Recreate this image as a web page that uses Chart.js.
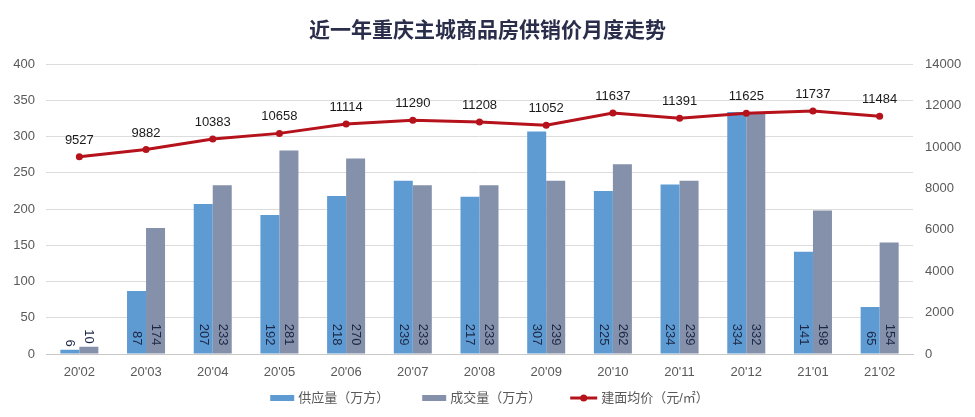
<!DOCTYPE html>
<html><head><meta charset="utf-8">
<script src="https://cdn.jsdelivr.net/npm/chart.js@4/dist/chart.umd.min.js"></script>
<style>html,body{margin:0;padding:0;background:#fff;}#wrap{width:975px;height:417px;}</style>
</head><body><div id="wrap"><canvas id="c" width="975" height="417"></canvas></div>
<script>
const categories = ["20'02","20'03","20'04","20'05","20'06","20'07","20'08","20'09","20'10","20'11","20'12","21'01","21'02"];
const supply = [6,87,207,192,218,239,217,307,225,234,334,141,65];
const deals = [10,174,233,281,270,233,233,239,262,239,332,198,154];
const price = [9527,9882,10383,10658,11114,11290,11208,11052,11637,11391,11625,11737,11484];
const seriesNames = ["供应量（万方）","成交量（万方）","建面均价（元/㎡）"];
const titleText = "近一年重庆主城商品房供销价月度走势";

const FONT = '"Liberation Sans","Noto Sans CJK SC",sans-serif';
const BLUE = '#5f9bd3', GRAY = '#8590aa', RED = '#b5121b';

const labelsPlugin = {
  id: 'vals',
  afterDatasetsDraw(chart) {
    const ctx = chart.ctx;
    ctx.save();
    ctx.font = '13px ' + FONT;
    ctx.fillStyle = '#1c2745';
    [0,1].forEach(di => {
      const meta = chart.getDatasetMeta(di);
      const data = chart.data.datasets[di].data;
      meta.data.forEach((bar, i) => {
        const txt = String(data[i]);
        const w = ctx.measureText(txt).width;
        let yEnd;
        if (bar.base - bar.y > w + 14) yEnd = bar.base - 8;
        else yEnd = bar.y - 3;
        ctx.save();
        ctx.translate(bar.x, yEnd);
        ctx.rotate(Math.PI / 2);
        ctx.textAlign = 'right';
        ctx.textBaseline = 'middle';
        ctx.fillText(txt, 0, 0);
        ctx.restore();
      });
    });
    const lm = chart.getDatasetMeta(2);
    ctx.fillStyle = '#1a1a1a';
    ctx.textAlign = 'center';
    ctx.textBaseline = 'bottom';
    lm.data.forEach((p, i) => {
      ctx.fillText(String(price[i]), p.x, p.y - 10);
    });
    ctx.restore();
  },
  afterDraw(chart) {
    const ctx = chart.ctx;
    ctx.save();
    ctx.font = '13px ' + FONT;
    const boxW = [24, 24, 27];
    const gapBox = 4, gaps = [33, 29];
    const widths = seriesNames.map(t => ctx.measureText(t).width);
    let total = 0;
    for (let i = 0; i < 3; i++) total += boxW[i] + gapBox + widths[i] + (i < 2 ? gaps[i] : 0);
    let x = chart.width / 2 - total / 2 + 2;
    const cy = 398;
    const cols = [BLUE, GRAY, RED];
    for (let i = 0; i < 3; i++) {
      if (i < 2) {
        ctx.fillStyle = cols[i];
        ctx.fillRect(x, cy - 3, boxW[i], 6);
      } else {
        ctx.strokeStyle = RED; ctx.lineWidth = 3;
        ctx.beginPath(); ctx.moveTo(x, cy); ctx.lineTo(x + boxW[i], cy); ctx.stroke();
        ctx.fillStyle = RED;
        ctx.beginPath(); ctx.arc(x + boxW[i] / 2, cy, 3.5, 0, Math.PI * 2); ctx.fill();
      }
      x += boxW[i] + gapBox;
      ctx.fillStyle = '#595959';
      ctx.textAlign = 'left';
      ctx.textBaseline = 'middle';
      ctx.fillText(seriesNames[i], x, cy);
      x += widths[i] + (i < 2 ? gaps[i] : 0);
    }
    ctx.restore();
  }
};

new Chart(document.getElementById('c'), {
  data: {
    labels: categories,
    datasets: [
      { type: 'bar', label: seriesNames[0], data: supply, backgroundColor: BLUE, yAxisID: 'y', order: 2, categoryPercentage: 0.57, barPercentage: 1.0 },
      { type: 'bar', label: seriesNames[1], data: deals, backgroundColor: GRAY, yAxisID: 'y', order: 2, categoryPercentage: 0.57, barPercentage: 1.0 },
      { type: 'line', label: seriesNames[2], data: price, borderColor: RED, backgroundColor: RED, borderWidth: 3, pointRadius: 3.5, pointBackgroundColor: RED, pointBorderWidth: 0, yAxisID: 'y1', order: 1, tension: 0 }
    ]
  },
  options: {
    responsive: false,
    animation: false,
    layout: { padding: { top: 0, bottom: 30, left: 0, right: 0 } },
    plugins: {
      tooltip: { enabled: false },
      legend: { display: false },
      title: { display: true, text: titleText, color: '#2a2e4b', font: { family: FONT, size: 21, weight: 'bold' }, padding: { top: 19, bottom: 20 } }
    },
    scales: {
      x: {
        grid: { display: false, drawTicks: false },
        border: { color: '#c8c8c8', width: 1 },
        ticks: { color: '#595959', font: { family: FONT, size: 13 }, padding: 11 },
        afterFit(s) { s.height = 33; }
      },
      y: {
        position: 'left', min: 0, max: 400,
        ticks: { stepSize: 50, color: '#595959', font: { family: FONT, size: 13 }, padding: 11 },
        grid: { color: '#dcdcdc', drawTicks: false },
        border: { display: false },
        afterFit(s) { s.width = 46; }
      },
      y1: {
        position: 'right', min: 0, max: 14000,
        ticks: { stepSize: 2000, color: '#595959', font: { family: FONT, size: 13 }, padding: 12, callback: v => String(v) },
        grid: { drawOnChartArea: false, drawTicks: false },
        border: { display: false },
        afterFit(s) { s.width = 62; }
      }
    }
  },
  plugins: [labelsPlugin]
});
</script></body></html>
